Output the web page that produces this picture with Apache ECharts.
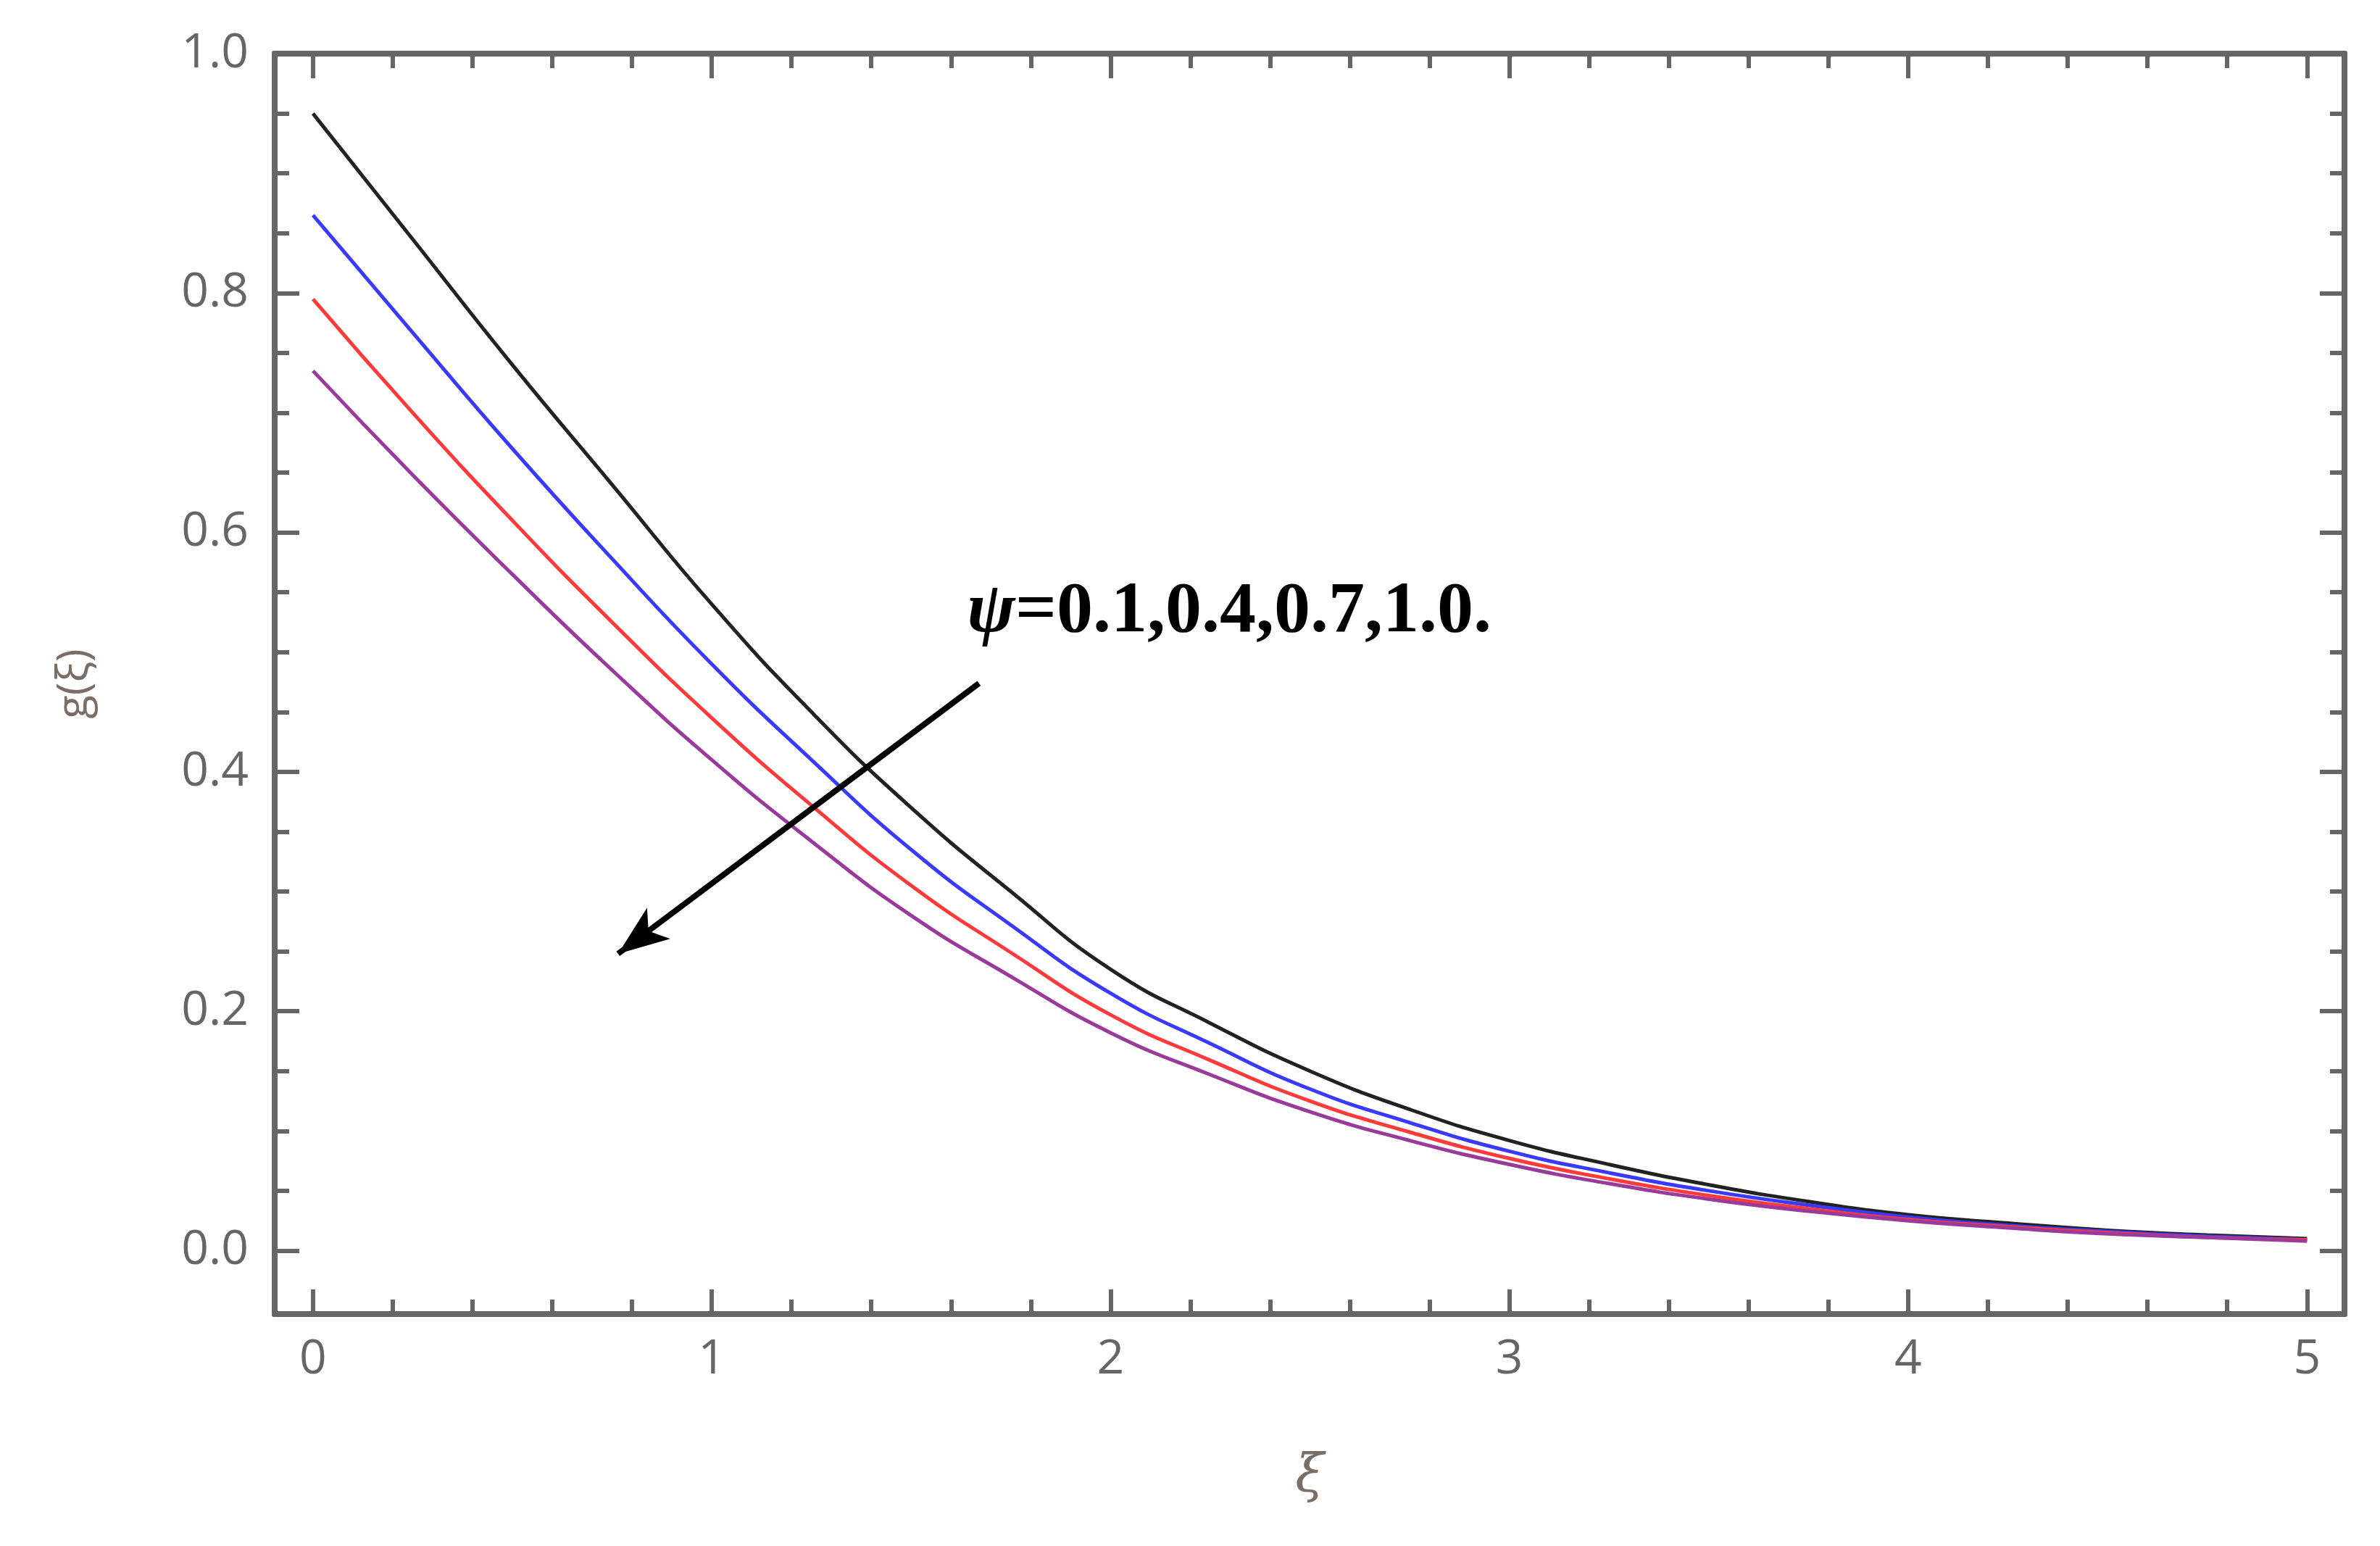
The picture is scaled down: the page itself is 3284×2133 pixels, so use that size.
<!DOCTYPE html>
<html><head><meta charset="utf-8">
<script src="https://cdn.jsdelivr.net/npm/echarts@6/dist/echarts.min.js"></script>
<style>html,body{margin:0;padding:0;background:#fff}#c{width:3284px;height:2133px}</style>
</head><body><div id="c"></div>
<script>
const xs = [0, 0.25, 0.5, 0.75, 1, 1.25, 1.5, 1.75, 2, 2.25, 2.5, 2.75, 3, 3.25, 3.5, 3.75, 4, 4.25, 4.5, 4.75, 5];
const gBlack  = [0.95, 0.845, 0.74, 0.64, 0.54, 0.45, 0.37, 0.30, 0.235, 0.19, 0.15, 0.118, 0.092, 0.072, 0.055, 0.041, 0.03, 0.023, 0.017, 0.013, 0.01];
const gBlue   = [0.865, 0.767, 0.67, 0.578, 0.49, 0.41, 0.335, 0.272, 0.215, 0.173, 0.135, 0.107, 0.083, 0.065, 0.05, 0.038, 0.028, 0.021, 0.016, 0.012, 0.009];
const gRed    = [0.795, 0.70, 0.61, 0.525, 0.445, 0.372, 0.305, 0.249, 0.197, 0.159, 0.125, 0.099, 0.077, 0.06, 0.046, 0.035, 0.026, 0.02, 0.015, 0.011, 0.009];
const gPurple = [0.735, 0.648, 0.565, 0.485, 0.41, 0.342, 0.28, 0.229, 0.182, 0.147, 0.116, 0.092, 0.072, 0.056, 0.043, 0.033, 0.025, 0.019, 0.014, 0.011, 0.008];
const xMajor = [0, 1, 2, 3, 4, 5];
const xMinor = [0.2,0.4,0.6,0.8,1.2,1.4,1.6,1.8,2.2,2.4,2.6,2.8,3.2,3.4,3.6,3.8,4.2,4.4,4.6,4.8];
const yMajor = [0, 0.2, 0.4, 0.6, 0.8, 1.0];
const yMinor = [0.05,0.1,0.15,0.25,0.3,0.35,0.45,0.5,0.55,0.65,0.7,0.75,0.85,0.9,0.95];
const annSymbol = 'ψ';
const annText = '=0.1,0.4,0.7,1.0.';
const arrowFrom = [1.67, 0.474];
const arrowTo = [0.765, 0.248];

const AX = '#666666';
const chart = echarts.init(document.getElementById('c'));
function xa(pos, ticks, len, labels, name) {
  return {type:'value', position:pos, min:-0.096, max:5.094,
    axisLine:{show:true, onZero:false, lineStyle:{color:AX, width:8}},
    axisTick:{show:true, inside:true, length:len, customValues:ticks, lineStyle:{color:AX, width:6}},
    axisLabel:{show:labels, customValues:xMajor, color:AX, fontSize:66, fontFamily:'Open Sans', margin:30,
      formatter:v=>String(v)},
    splitLine:{show:false},
    name:name||'', nameLocation:'middle', nameGap:190,
    nameTextStyle:{fontSize:72, fontStyle:'italic', color:'#7a6e66', fontFamily:'DejaVu Serif'}};
}
function ya(pos, ticks, len, labels, name) {
  return {type:'value', position:pos, min:-0.053, max:1.0,
    axisLine:{show:true, onZero:false, lineStyle:{color:AX, width:8}},
    axisTick:{show:true, inside:true, length:len, customValues:ticks, lineStyle:{color:AX, width:6}},
    axisLabel:{show:labels, customValues:yMajor, color:AX, fontSize:66, fontFamily:'Open Sans', margin:36,
      formatter:v=>v.toFixed(1)},
    splitLine:{show:false},
    name:name||'', nameLocation:'middle', nameGap:245, nameRotate:90,
    nameTextStyle:{fontSize:60, color:'#7a6e66', fontFamily:'Open Sans'}};
}
function line(data, color, extra) {
  return Object.assign({type:'line', smooth:true, symbol:'none', xAxisIndex:0, yAxisIndex:0,
    data: xs.map((x,i)=>[x,data[i]]), lineStyle:{color, width:5}}, extra||{});
}
chart.setOption({
  animation:false,
  grid:{left:379, right:49, top:74, bottom:320},
  xAxis:[xa('bottom', xMajor, 34, true, 'ξ'), xa('bottom', xMinor, 20, false),
         xa('top', xMajor, 34, false), xa('top', xMinor, 20, false)],
  yAxis:[ya('left', yMajor, 34, true, 'g(ξ)'), ya('left', yMinor, 20, false),
         ya('right', yMajor, 34, false), ya('right', yMinor, 20, false)],
  series:[
    line(gBlack, '#222222'),
    line(gBlue, '#3a3aff'),
    line(gRed, '#ff3a3a'),
    line(gPurple, '#9a3a9a', {markLine:{silent:true, symbol:['none','arrow'], symbolSize:[40,70],
      label:{show:false},
      lineStyle:{color:'#000', width:8, type:'solid'},
      data:[[{coord:arrowFrom},{coord:arrowTo}]]}})
  ]
});
const p = chart.convertToPixel({xAxisIndex:0, yAxisIndex:0}, [1.64, 0.533]);
chart.setOption({graphic:[{type:'text', x:p[0], y:p[1],
  style:{text:'{a|' + annSymbol + '}{b|' + annText + '}', verticalAlign:'middle',
    rich:{a:{fill:'#000', font:'italic bold 100px "Liberation Serif"'},
          b:{fill:'#000', font:'bold 100px "Liberation Serif"'}}}}]});
</script></body></html>
